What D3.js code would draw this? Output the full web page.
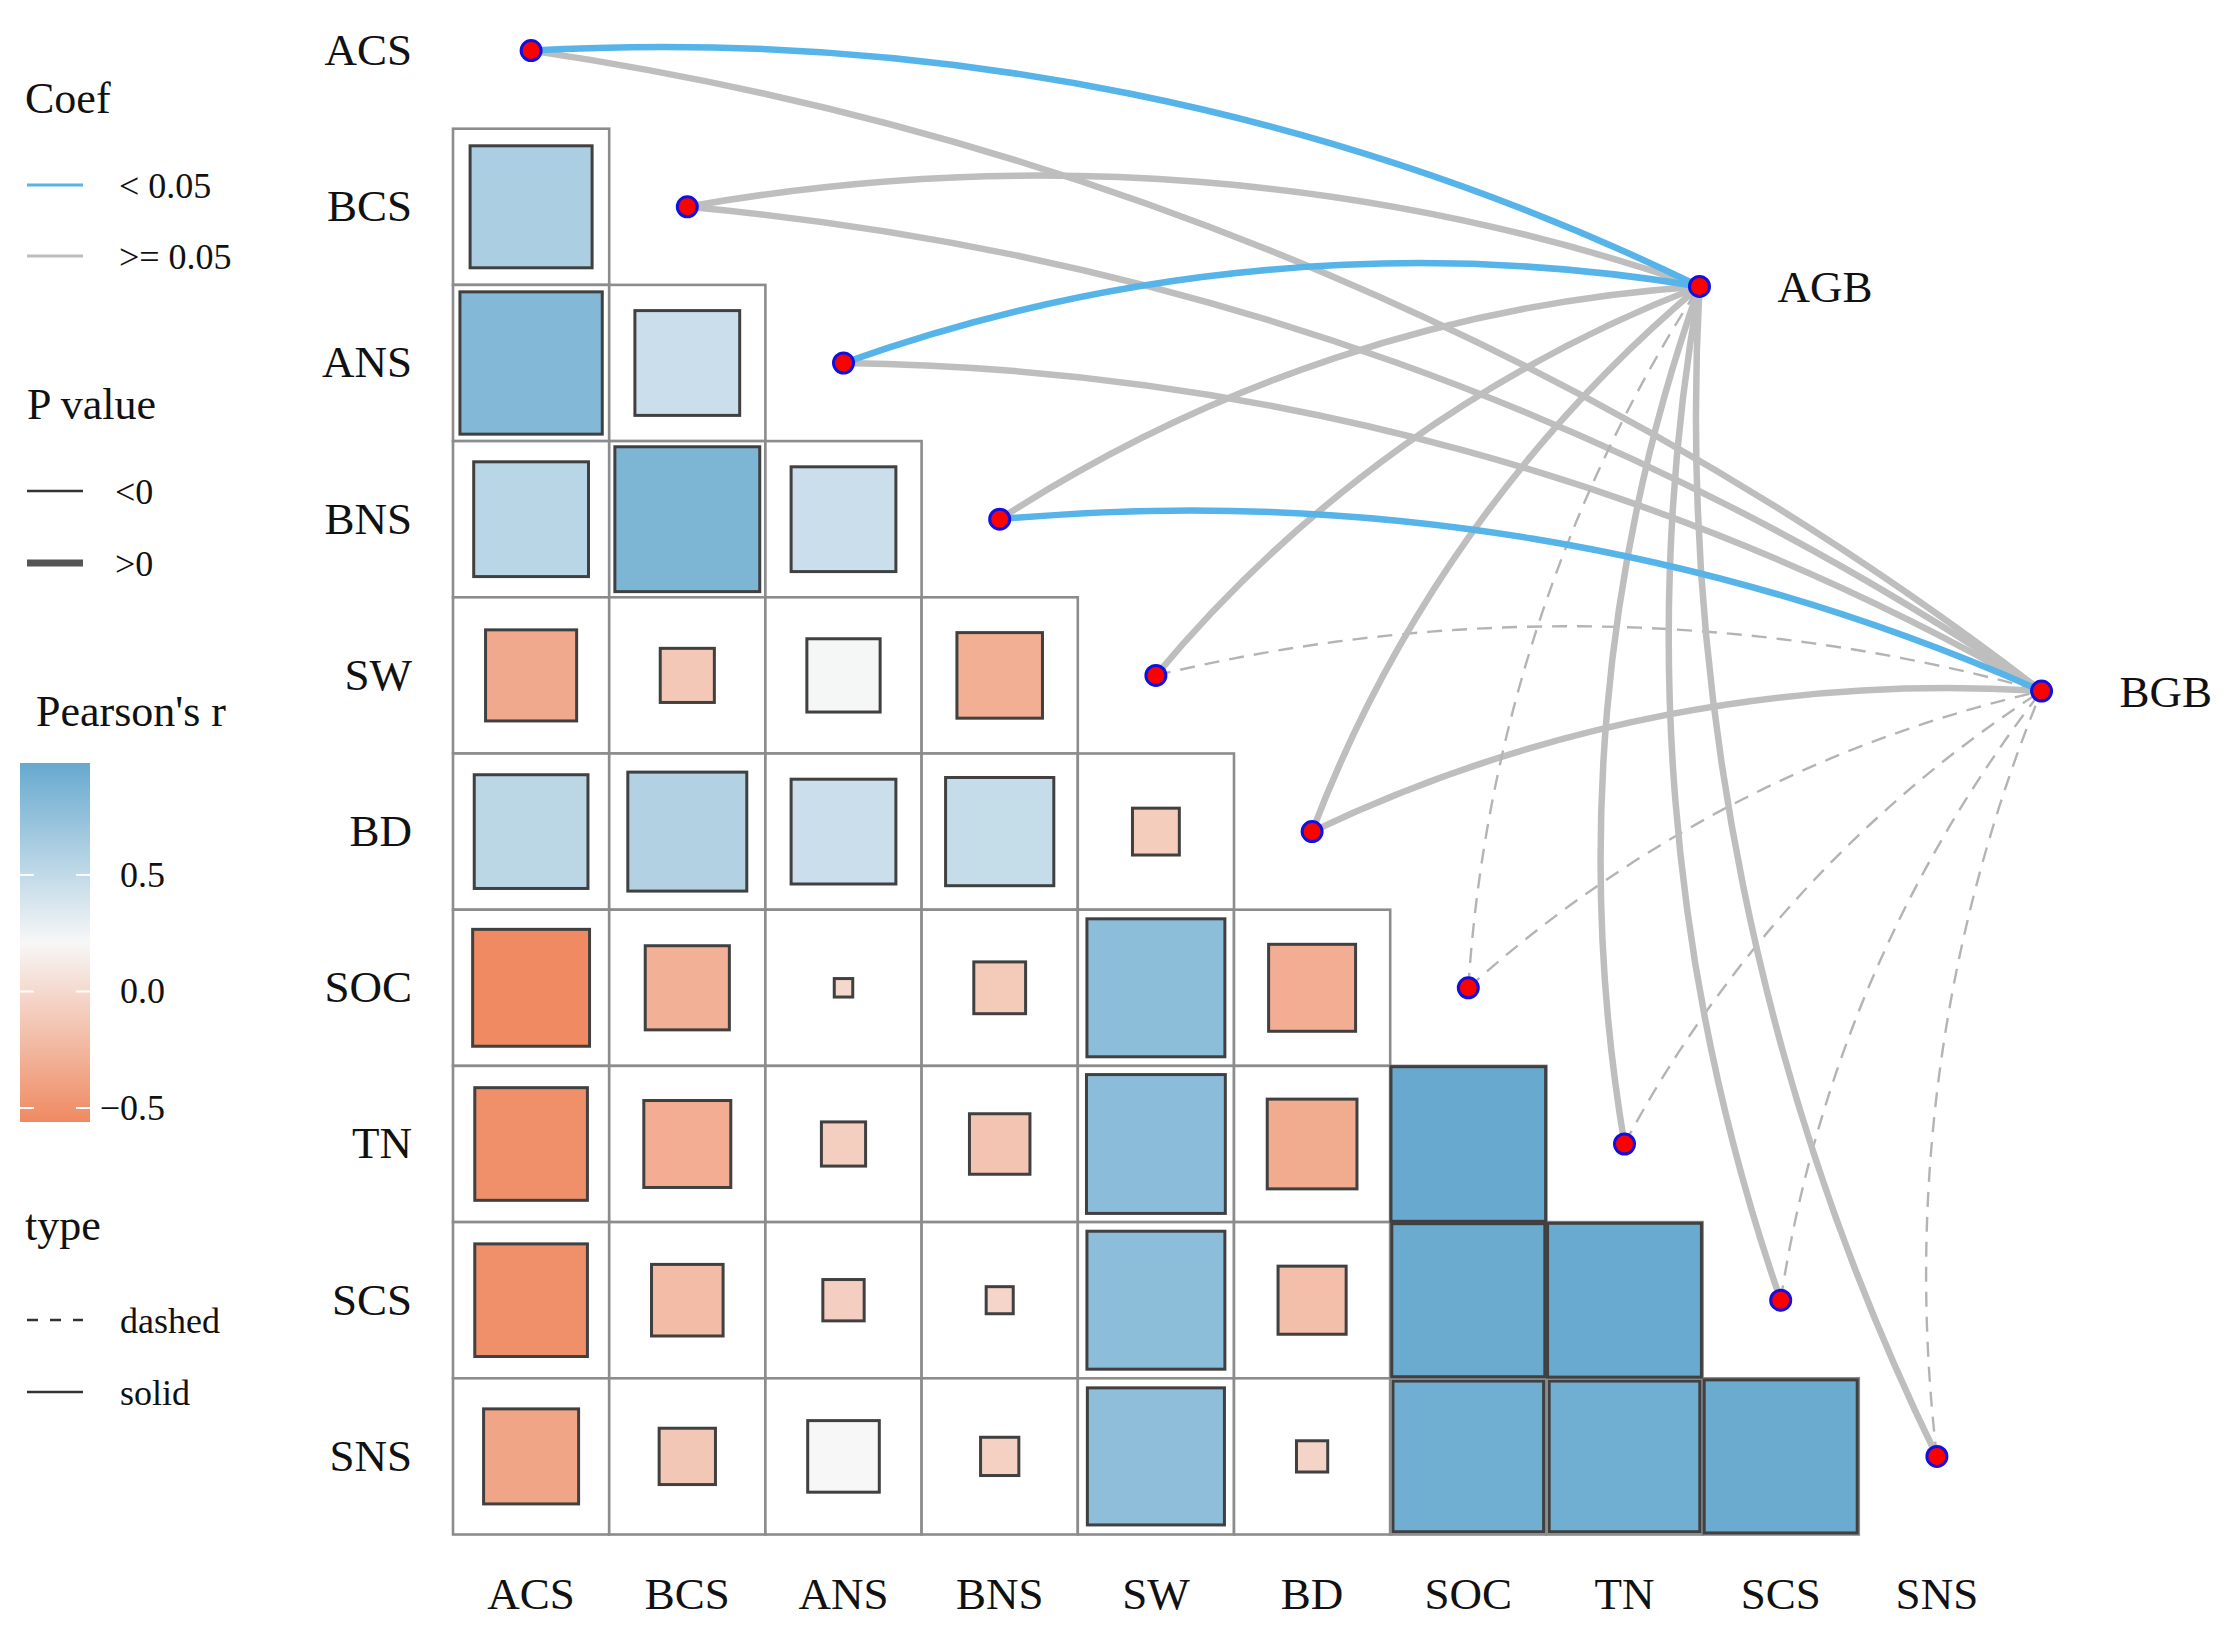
<!DOCTYPE html>
<html>
<head>
<meta charset="utf-8">
<script src="https://cdn.jsdelivr.net/npm/d3@7"></script>
<style>
html, body { margin: 0; padding: 0; background: #fff; }
svg { display: block; font-family: "Liberation Serif", "Times New Roman", serif; }
</style>
</head>
<body>
<div id="chart"></div>
<script>
// variables along the diagonal
const variables = ["ACS", "BCS", "ANS", "BNS", "SW", "BD", "SOC", "TN", "SCS", "SNS"];

// lower triangle of Pearson's r, row by row (row i has i values)
const corrValues = [
	[],
	[0.61],
	[0.83, 0.45],
	[0.54, 0.86, 0.45],
	[-0.34, -0.12, 0.22, -0.30],
	[0.53, 0.58, 0.45, 0.48, -0.09],
	[-0.56, -0.29, -0.014, -0.11, 0.78, -0.31],
	[-0.52, -0.31, -0.08, -0.15, 0.79, -0.33, 0.98],
	[-0.52, -0.21, -0.07, -0.03, 0.78, -0.19, 0.96, 0.97],
	[-0.37, -0.13, 0.21, -0.06, 0.77, -0.04, 0.93, 0.93, 0.96]
];

const specNames = ["AGB", "BGB"];

// links from each variable to AGB / BGB
const agbCoef = ["< 0.05", ">= 0.05", "< 0.05", ">= 0.05", ">= 0.05", ">= 0.05", ">= 0.05", ">= 0.05", ">= 0.05", ">= 0.05"];
const agbType = ["solid", "solid", "solid", "solid", "solid", "solid", "dashed", "solid", "solid", "solid"];
const agbP    = [">0", ">0", ">0", ">0", ">0", ">0", "<0", ">0", ">0", ">0"];

const bgbCoef = [">= 0.05", ">= 0.05", ">= 0.05", "< 0.05", ">= 0.05", ">= 0.05", ">= 0.05", ">= 0.05", ">= 0.05", ">= 0.05"];
const bgbType = ["solid", "solid", "solid", "solid", "dashed", "solid", "dashed", "dashed", "dashed", "dashed"];
const bgbP    = [">0", ">0", ">0", ">0", "<0", ">0", "<0", "<0", "<0", "<0"];

// legend levels
const coefLevels = ["< 0.05", ">= 0.05"];
const pLevels = ["<0", ">0"];
const typeLevels = ["dashed", "solid"];
const colorTicks = [-0.5, 0, 0.5];

const width = 2226, height = 1632;
const cell = 156.2;
const gridLeft = 453, gridTop = -27.5;

const svg = d3.select("#chart")
	.append("svg")
		.attr("width", width)
		.attr("height", height);

// scales
const x = d3.scaleBand().domain(variables).range([gridLeft, gridLeft + cell * variables.length]);
const y = d3.scaleBand().domain(variables).range([gridTop, gridTop + cell * variables.length]);
// continuous cell-unit scales used to anchor the AGB / BGB nodes
const xu = d3.scaleLinear().domain([0, variables.length]).range(x.range());
const yu = d3.scaleLinear().domain([0, variables.length]).range(y.range());

const allR = corrValues.flat();
const rExtent = d3.extent(allR);
const fill = d3.scaleLinear()
	.domain([rExtent[0], (rExtent[0] + rExtent[1]) / 2, rExtent[1]])
	.range(["#EF8A62", "#F7F7F7", "#67A9CF"])
	.interpolate(d3.interpolateRgb);

const side = d3.scaleSqrt().domain([0, 1]).range([0, cell]);

const coefColor = d3.scaleOrdinal().domain(coefLevels).range(["#56B4E9", "#BEBEBE"]);
const pWidth = d3.scaleOrdinal().domain(pLevels).range([2.4, 6.5]);
const typeDash = d3.scaleOrdinal().domain(typeLevels).range(["15,10", null]);

// heatmap cells
const cells = [];
corrValues.forEach((row, i) => row.forEach((r, j) => cells.push({ row: variables[i], col: variables[j], r })));

const cellG = svg.append("g").attr("class", "cells");

cellG.selectAll("rect.bg")
	.data(cells)
	.enter()
	.append("rect")
		.attr("class", "bg")
		.attr("x", d => x(d.col))
		.attr("y", d => y(d.row))
		.attr("width", x.bandwidth())
		.attr("height", y.bandwidth())
		.attr("fill", "#fff")
		.attr("stroke", "#8C8C8C")
		.attr("stroke-width", 2.6);

cellG.selectAll("rect.sq")
	.data(cells)
	.enter()
	.append("rect")
		.attr("class", "sq")
		.attr("x", d => x(d.col) + (cell - side(Math.abs(d.r))) / 2)
		.attr("y", d => y(d.row) + (cell - side(Math.abs(d.r))) / 2)
		.attr("width", d => side(Math.abs(d.r)))
		.attr("height", d => side(Math.abs(d.r)))
		.attr("fill", d => fill(d.r))
		.attr("stroke", "#404040")
		.attr("stroke-width", 3);

// axes
const axisFont = 45;

const leftAxis = svg.append("g")
	.attr("transform", `translate(${ gridLeft }, 0)`)
	.call(d3.axisLeft(y).tickSize(0).tickPadding(41));

const bottomAxis = svg.append("g")
	.attr("transform", `translate(0, ${ gridTop + cell * variables.length })`)
	.call(d3.axisBottom(x).tickSize(0).tickPadding(43));

[leftAxis, bottomAxis].forEach(axis => {
	axis.select(".domain").remove();
	axis.selectAll("text")
		.attr("font-family", "Liberation Serif, Times New Roman, serif")
		.attr("font-size", axisFont)
		.attr("fill", "#111");
});

// link geometry
const nodePos = v => [x(v) + x.bandwidth() / 2, y(v) + y.bandwidth() / 2];
const specPos = {
	AGB: [xu(7.98), yu(2.01)],
	BGB: [xu(10.17), yu(4.6)]
};

const bow = 0.064;
function arcPath(p0, p1) {
	const dx = p1[0] - p0[0], dy = p1[1] - p0[1];
	const len = Math.sqrt(dx * dx + dy * dy);
	const s = bow * len;
	const radius = (len * len / 4 + s * s) / (2 * s);
	return `M${ p0[0] },${ p0[1] }A${ radius },${ radius } 0 0 1 ${ p1[0] },${ p1[1] }`;
}

const links = [];
variables.forEach((v, i) => {
	links.push({ from: v, to: "AGB", coef: agbCoef[i], type: agbType[i], p: agbP[i] });
	links.push({ from: v, to: "BGB", coef: bgbCoef[i], type: bgbType[i], p: bgbP[i] });
});
// gray first, blue on top
links.sort((a, b) => (coefLevels.indexOf(b.coef) - coefLevels.indexOf(a.coef)));

svg.append("g")
	.attr("class", "links")
	.selectAll("path")
	.data(links)
	.enter()
	.append("path")
		.attr("d", d => arcPath(nodePos(d.from), specPos[d.to]))
		.attr("fill", "none")
		.attr("stroke", d => d.type === "dashed" ? "#B4B4B4" : coefColor(d.coef))
		.attr("stroke-width", d => pWidth(d.p))
		.attr("stroke-dasharray", d => typeDash(d.type));

// nodes
const nodeData = variables.map(v => nodePos(v)).concat(specNames.map(s => specPos[s]));

svg.append("g")
	.attr("class", "nodes")
	.selectAll("circle")
	.data(nodeData)
	.enter()
	.append("circle")
		.attr("cx", d => d[0])
		.attr("cy", d => d[1])
		.attr("r", 10)
		.attr("fill", "#FF0000")
		.attr("stroke", "#1010E0")
		.attr("stroke-width", 3);

svg.append("g")
	.selectAll("text")
	.data(specNames)
	.enter()
	.append("text")
		.attr("x", d => specPos[d][0] + 78)
		.attr("y", d => specPos[d][1])
		.attr("dy", "0.35em")
		.attr("font-size", axisFont)
		.attr("fill", "#111")
		.text(d => d);

// legends
const legend = svg.append("g").attr("class", "legend").attr("fill", "#111");
const titleSize = 44, labelSize = 36;

legend.append("text").attr("x", 25).attr("y", 113).attr("font-size", titleSize).text("Coef");
const coefKeys = legend.selectAll("g.coef")
	.data(coefLevels)
	.enter()
	.append("g")
		.attr("class", "coef")
		.attr("transform", (d, i) => `translate(0, ${ 185 + i * 71 })`);
coefKeys.append("line")
	.attr("x1", 27).attr("x2", 83)
	.attr("stroke", d => coefColor(d))
	.attr("stroke-width", 3);
coefKeys.append("text")
	.attr("x", 119).attr("dy", "0.35em")
	.attr("font-size", labelSize)
	.text(d => d);

legend.append("text").attr("x", 27).attr("y", 419).attr("font-size", titleSize).text("P value");
const pKeys = legend.selectAll("g.pval")
	.data(pLevels)
	.enter()
	.append("g")
		.attr("class", "pval")
		.attr("transform", (d, i) => `translate(0, ${ 491 + i * 72 })`);
pKeys.append("line")
	.attr("x1", 27).attr("x2", 83)
	.attr("stroke", (d, i) => i === 0 ? "#333" : "#555")
	.attr("stroke-width", (d, i) => i === 0 ? 2.6 : 7);
pKeys.append("text")
	.attr("x", 115).attr("dy", "0.35em")
	.attr("font-size", labelSize)
	.text(d => d);

legend.append("text").attr("x", 36).attr("y", 726).attr("font-size", titleSize).text("Pearson's r");

const barTop = 763, barBottom = 1122, barLeft = 20, barWidth = 70;
const barY = d3.scaleLinear().domain(rExtent).range([barBottom, barTop]);

const grad = svg.append("defs")
	.append("linearGradient")
		.attr("id", "rgrad")
		.attr("x1", 0).attr("y1", 1).attr("x2", 0).attr("y2", 0);
grad.selectAll("stop")
	.data(d3.range(0, 1.0001, 0.05))
	.enter()
	.append("stop")
		.attr("offset", t => t)
		.attr("stop-color", t => fill(rExtent[0] + t * (rExtent[1] - rExtent[0])));

legend.append("rect")
	.attr("x", barLeft).attr("y", barTop)
	.attr("width", barWidth).attr("height", barBottom - barTop)
	.attr("fill", "url(#rgrad)");

const tickG = legend.selectAll("g.ctick")
	.data(colorTicks)
	.enter()
	.append("g")
		.attr("class", "ctick")
		.attr("transform", d => `translate(0, ${ barY(d) })`);
tickG.append("line").attr("x1", barLeft).attr("x2", barLeft + 14).attr("stroke", "#fff").attr("stroke-width", 2);
tickG.append("line").attr("x1", barLeft + barWidth - 14).attr("x2", barLeft + barWidth).attr("stroke", "#fff").attr("stroke-width", 2);

const colorAxis = legend.append("g")
	.attr("transform", `translate(${ barLeft + barWidth }, 0)`)
	.call(d3.axisRight(barY).tickValues(colorTicks).tickFormat(d3.format(".1f")).tickSize(0).tickPadding(75));
colorAxis.select(".domain").remove();
colorAxis.selectAll("text")
	.attr("font-family", "Liberation Serif, Times New Roman, serif")
	.attr("font-size", labelSize)
	.attr("fill", "#111")
	.attr("text-anchor", "end");

legend.append("text").attr("x", 25).attr("y", 1240).attr("font-size", titleSize).text("type");
const typeKeys = legend.selectAll("g.type")
	.data(typeLevels)
	.enter()
	.append("g")
		.attr("class", "type")
		.attr("transform", (d, i) => `translate(0, ${ 1320 + i * 72 })`);
typeKeys.append("line")
	.attr("x1", 27).attr("x2", 83)
	.attr("stroke", "#333")
	.attr("stroke-width", 2.6)
	.attr("stroke-dasharray", d => d === "dashed" ? "11,12" : null);
typeKeys.append("text")
	.attr("x", 120).attr("dy", "0.35em")
	.attr("font-size", labelSize)
	.text(d => d);
</script>
</body>
</html>
